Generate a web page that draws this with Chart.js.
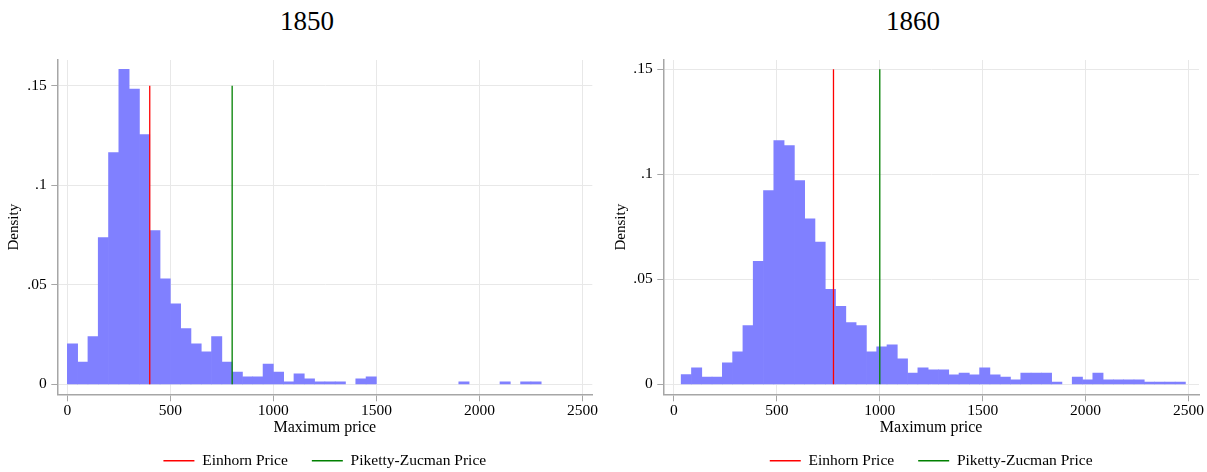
<!DOCTYPE html>
<html>
<head>
<meta charset="utf-8">
<script src="https://cdn.jsdelivr.net/npm/chart.js@4.4.1/dist/chart.umd.min.js"></script>
<style>
  body { margin: 0; width: 1207px; height: 472px; overflow: hidden; background: #fff; position: relative; }
  .title { position: absolute; top: 8px; width: 200px; text-align: center; font-family: 'Liberation Serif', serif; font-size: 27px; line-height: 27px; color: #000; }
  canvas { position: absolute; top: 0; }
</style>
</head>
<body>
<div class="title" style="left:207px">1850</div>
<div class="title" style="left:813px">1860</div>
<canvas id="c1850" width="603" height="472" style="left:0"></canvas>
<canvas id="c1860" width="604" height="472" style="left:603px"></canvas>
<script>
// histogram bins (width 50), density per bin
const binWidth = 50;

const binStart1850 = 0;
const density1850 = [
  0.0203, 0.0112, 0.0240, 0.0737, 0.1164, 0.1582, 0.1483, 0.1255, 0.0772, 0.0530,
  0.0404, 0.0280, 0.0203, 0.0163, 0.0240, 0.0112, 0.0062, 0.0037, 0.0037, 0.0102,
  0.0062, 0.0012, 0.0052, 0.0027, 0.0012, 0.0012, 0.0012, 0, 0.0027, 0.0037,
  0, 0, 0, 0, 0, 0, 0, 0, 0.0012, 0,
  0, 0, 0.0012, 0, 0.0012, 0.0012
];

const binStart1860 = 35;
const density1860 = [
  0.0046, 0.0078, 0.0035, 0.0035, 0.0102, 0.0155, 0.0280, 0.0586, 0.0922, 0.1161,
  0.1137, 0.0970, 0.0788, 0.0677, 0.0452, 0.0371, 0.0294, 0.0280, 0.0155, 0.0179,
  0.0188, 0.0121, 0.0054, 0.0078, 0.0069, 0.0069, 0.0045, 0.0054, 0.0045, 0.0078,
  0.0045, 0.0035, 0.0021, 0.0054, 0.0054, 0.0054, 0.0011, 0, 0.0035, 0.0021,
  0.0054, 0.0021, 0.0021, 0.0021, 0.0021, 0.0011, 0.0011, 0.0011, 0.0011
];

// reference prices (vertical lines)
const einhorn1850 = 400;
const piketty1850 = 800;
const einhorn1860 = 775;
const piketty1860 = 1000;
const refLineTop = 0.15;

const xTicks = [0, 500, 1000, 1500, 2000, 2500];
const yTicks = [0, 0.05, 0.1, 0.15];
const yTickLabels = ['0', '.05', '.1', '.15'];
const legendLabels = ['Einhorn Price', 'Piketty-Zucman Price'];
const lineColors = ['#ff0000', '#008000'];

const gridColor = '#e8e8e8';
const axisColor = '#a6a6a6';

Chart.defaults.font.family = "'Liberation Serif', 'Times New Roman', serif";
Chart.defaults.color = '#000';

function drawPanel(id, p) {
  // empty bins are left out so no sliver is drawn on the baseline
  const bars = p.density
    .map((v, i) => ({ x: p.start + binWidth * (i + 0.5), y: v }))
    .filter(b => b.y > 0);
  new Chart(document.getElementById(id), {
    type: 'bar',
    data: {
      datasets: [
        { type: 'line', label: legendLabels[0], data: [{ x: p.einhorn, y: 0 }, { x: p.einhorn, y: refLineTop }],
          borderColor: lineColors[0], borderWidth: 1.3, pointRadius: 0, fill: false, order: 0 },
        { type: 'line', label: legendLabels[1], data: [{ x: p.piketty, y: 0 }, { x: p.piketty, y: refLineTop }],
          borderColor: lineColors[1], borderWidth: 1.3, pointRadius: 0, fill: false, order: 0 },
        { label: 'Density', data: bars, backgroundColor: '#8080ff', borderWidth: 0,
          barPercentage: 1, categoryPercentage: 1, order: 1 }
      ]
    },
    options: {
      responsive: false,
      animation: false,
      events: [],
      layout: { padding: { top: 60, left: 0, right: p.padRight, bottom: -6.45 } },
      plugins: {
        tooltip: { enabled: false },
        legend: {
          position: 'bottom',
          fullSize: false,
          labels: {
            boxWidth: 31, boxHeight: 1.5, padding: 24, color: '#000',
            font: { size: 15.5 },
            generateLabels: () => legendLabels.map((text, i) => ({
              text: text, fillStyle: lineColors[i], strokeStyle: lineColors[i],
              lineWidth: 0, hidden: false, datasetIndex: i
            }))
          }
        }
      },
      scales: {
        x: {
          type: 'linear', min: p.xMin, max: p.xMax, offset: false,
          afterBuildTicks: s => { s.ticks = xTicks.map(v => ({ value: v })); },
          afterFit: s => { s.height = 34.65; },
          grid: { offset: false, color: gridColor, lineWidth: 1, tickLength: 7, tickColor: axisColor, tickWidth: 1 },
          border: { color: axisColor, width: 1.5 },
          ticks: { padding: 0, font: { size: 15.5 }, maxRotation: 0, autoSkip: false, callback: v => String(v) },
          title: { display: true, text: 'Maximum price', font: { size: 16 }, padding: { top: 0, bottom: -8.65 } }
        },
        y: {
          min: p.yMin, max: p.yMax,
          afterBuildTicks: s => { s.ticks = yTicks.map(v => ({ value: v })); },
          afterFit: s => { s.width = p.yAxisWidth; },
          grid: { color: gridColor, lineWidth: 1, tickLength: 6, tickColor: axisColor, tickWidth: 1 },
          border: { color: axisColor, width: 1.5 },
          ticks: { padding: 4.6, font: { size: 15.5 }, callback: v => yTickLabels[yTicks.indexOf(v)] },
          title: { display: true, text: 'Density', font: { size: 15 }, padding: { top: p.densityPad, bottom: 0 } }
        }
      }
    }
  });
}

drawPanel('c1850', {
  start: binStart1850, density: density1850, einhorn: einhorn1850, piketty: piketty1850,
  xMin: -48.7, xMax: 2548, yMin: -0.00502, yMax: 0.1629,
  yAxisWidth: 57.3, padRight: 10.7, densityPad: 4.8
});

drawPanel('c1860', {
  start: binStart1860, density: density1860, einhorn: einhorn1860, piketty: piketty1860,
  xMin: -51.9, xMax: 2551, yMin: -0.00476, yMax: 0.15444,
  yAxisWidth: 60.3, padRight: 8, densityPad: 9.2
});
</script>
</body>
</html>
